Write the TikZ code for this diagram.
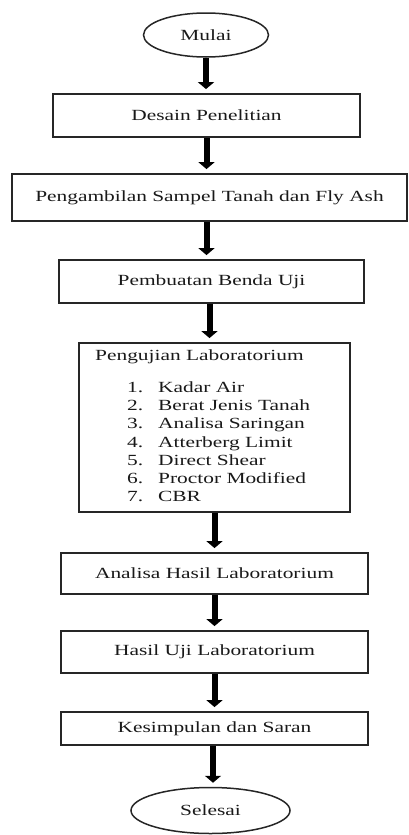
\documentclass[tikz,border=0pt]{standalone}
\usepackage{fontspec}
\setmainfont{Liberation Serif}[FakeStretch=1.38]
\usetikzlibrary{arrows.meta,shapes.geometric}
\begin{document}
\begin{tikzpicture}[x=1pt,y=-1pt,
  box/.style={draw=black!85,line width=1.8pt,rectangle,inner sep=0pt,text=black!90},
  term/.style={draw=black!85,line width=1.5pt,ellipse,inner sep=0pt,text=black!90},
  lbl/.style={inner sep=0pt,text=black!90},
  arr/.style={line width=6pt,-{Triangle[width=16pt,length=7pt]},shorten >=4pt},
  font=\fontsize{15.5}{18.2}\selectfont]
\useasboundingbox (0,0) rectangle (409,835);
\node[term,minimum width=125,minimum height=44] (mulai) at (206,35) {Mulai};
\node[box,minimum width=307,minimum height=43] (desain) at (206.5,115.5) {Desain Penelitian};
\node[box,minimum width=395,minimum height=47] (ambil) at (209.5,197.5) {Pengambilan Sampel Tanah dan Fly Ash};
\node[box,minimum width=305,minimum height=43] (buat) at (211.5,281.5) {Pembuatan Benda Uji};
\node[box,minimum width=271,minimum height=169] (uji) at (214.5,427.5) {};
\node[lbl,anchor=west] (ujititle) at (95,357) {Pengujian Laboratorium};
\node[lbl,anchor=north west] (ujilist) at (127,379.5) {\begin{tabular}{@{}p{31pt}@{}l@{}}
1. & Kadar Air\\
2. & Berat Jenis Tanah\\
3. & Analisa Saringan\\
4. & Atterberg Limit\\
5. & Direct Shear\\
6. & Proctor Modified\\
7. & CBR
\end{tabular}};
\node[box,minimum width=307,minimum height=41] (analisa) at (214.5,573.5) {Analisa Hasil Laboratorium};
\node[box,minimum width=307,minimum height=42] (hasil) at (214.5,652) {Hasil Uji Laboratorium};
\node[box,minimum width=307,minimum height=33] (simpul) at (214.5,728.5) {Kesimpulan dan Saran};
\node[term,minimum width=159,minimum height=46] (selesai) at (210.5,810.5) {Selesai};
\draw[arr] (mulai.south) -- (mulai.south |- desain.north);
\draw[arr] (desain.south) -- (desain.south |- ambil.north);
\draw[arr] (desain.south |- ambil.south) -- (desain.south |- buat.north);
\draw[arr] (ambil.south |- buat.south) -- (ambil.south |- uji.north);
\draw[arr] (uji.south) -- (uji.south |- analisa.north);
\draw[arr] (analisa.south) -- (analisa.south |- hasil.north);
\draw[arr] (hasil.south) -- (hasil.south |- simpul.north);
\draw[arr] ([xshift=-1.5pt]simpul.south) -- ([xshift=-1.5pt]simpul.south |- selesai.north);
\end{tikzpicture}
\end{document}
